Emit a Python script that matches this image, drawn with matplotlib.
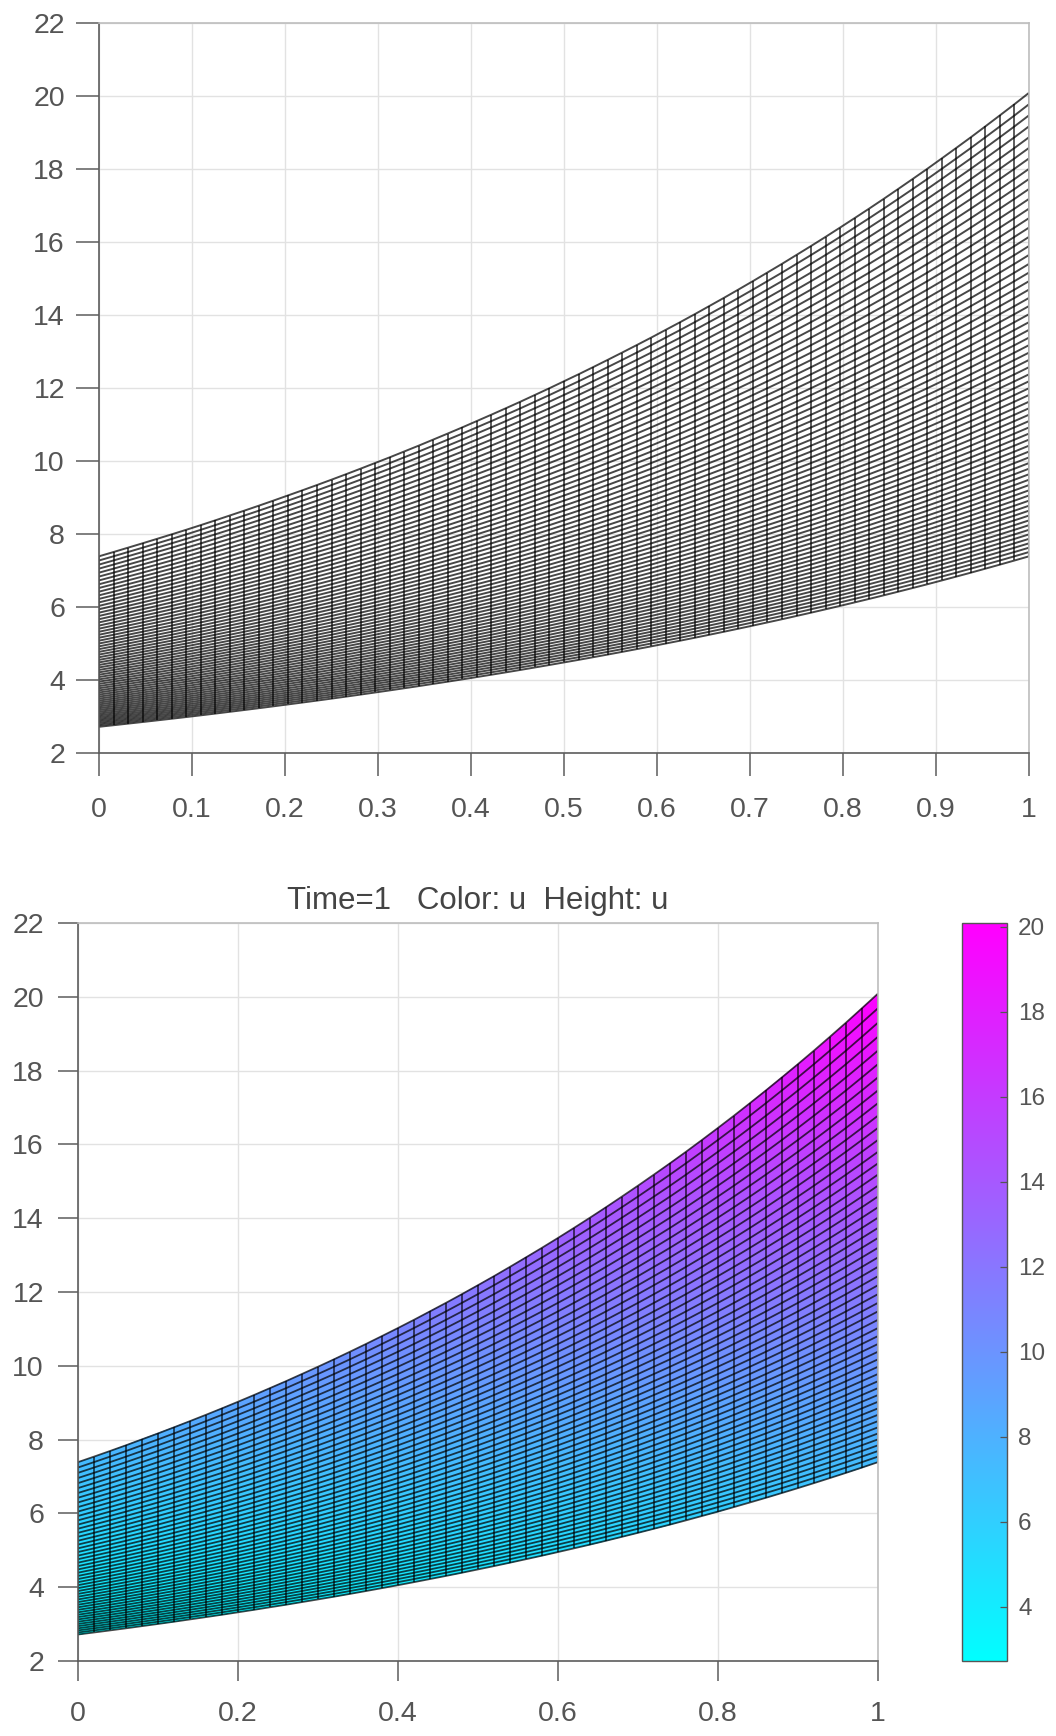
import numpy as np
import matplotlib
matplotlib.use("Agg")
import matplotlib.pyplot as plt
from matplotlib.colors import Normalize

plt.rcParams['font.family'] = ['Liberation Sans', 'DejaVu Sans']

# Values. Each panel is a separable mesh, so one list of
# column values along the lower edge and one list of levels along the left edge
# stand in for the full grid of several thousand crossings.
top_lower_edge = [2.718,2.761,2.805,2.849,2.894,2.939,2.985,3.032,3.080,3.129,3.178,3.228,3.279,3.331,3.383,3.436,
                  3.490,3.545,3.601,3.658,3.715,3.774,3.833,3.894,3.955,4.017,4.081,4.145,4.210,4.276,4.344,4.412,
                  4.482,4.552,4.624,4.697,4.771,4.846,4.922,5.000,5.078,5.158,5.240,5.322,5.406,5.491,5.578,5.665,
                  5.755,5.845,5.937,6.031,6.126,6.222,6.320,6.420,6.521,6.623,6.728,6.834,6.941,7.051,7.162,7.274,7.389]
top_left_levels = list(top_lower_edge)
bottom_lower_edge = [2.718,2.773,2.829,2.886,2.945,3.004,3.065,3.127,3.190,3.254,3.320,3.387,3.456,3.525,3.597,3.669,
                     3.743,3.819,3.896,3.975,4.055,4.137,4.221,4.306,4.393,4.482,4.572,4.665,4.759,4.855,4.953,5.053,
                     5.155,5.259,5.366,5.474,5.585,5.697,5.812,5.930,6.050,6.172,6.297,6.424,6.554,6.686,6.821,6.959,
                     7.099,7.243,7.389]
bottom_left_levels = list(bottom_lower_edge)

y_ticks = [2,4,6,8,10,12,14,16,18,20,22]
top_x_ticks = [0,0.1,0.2,0.3,0.4,0.5,0.6,0.7,0.8,0.9,1]
top_x_labels = ['0','0.1','0.2','0.3','0.4','0.5','0.6','0.7','0.8','0.9','1']
bottom_x_ticks = [0,0.2,0.4,0.6,0.8,1]
bottom_x_labels = ['0','0.2','0.4','0.6','0.8','1']
cbar_ticks = [4,6,8,10,12,14,16,18,20]
title_text = 'Time=1   Color: u  Height: u'
u_min, u_max = 2.718, 20.09

W, H = 1056, 1736
fig = plt.figure(figsize=(W/100, H/100), dpi=100, facecolor='white')

def px_axes(l, t, r, b):
    return fig.add_axes([l/W, 1-b/H, (r-l)/W, (b-t)/H])

def mesh(lower, levels):
    lower = np.array(lower); levels = np.array(levels)
    x = np.arange(len(lower))/(len(lower)-1)
    X, _ = np.meshgrid(x, levels)
    Y = np.outer(levels, lower/lower[0])
    return X, Y

def wires(ax, X, Y, lw_row, lw_col, alpha):
    for i in range(X.shape[0]):
        ax.plot(X[i], Y[i], color='black', lw=lw_row, alpha=alpha, solid_capstyle='butt')
    for j in range(X.shape[1]):
        ax.plot(X[:, j], Y[:, j], color='black', lw=lw_col, alpha=alpha, solid_capstyle='butt')

def style(ax, xt, xl, yt, ticklen, xpad, ypad):
    ax.set_xlim(0, 1); ax.set_ylim(2, 22)
    ax.set_xticks(xt); ax.set_xticklabels(xl)
    ax.set_yticks(yt)
    ax.grid(True, color='#e2e2e2', lw=1.0)
    ax.set_axisbelow(True)
    for s in ['left', 'bottom']:
        ax.spines[s].set_color('#5c5c5c'); ax.spines[s].set_linewidth(1.2)
    for s in ['top', 'right']:
        ax.spines[s].set_color('#bdbdbd'); ax.spines[s].set_linewidth(1.2)
    ax.tick_params(axis='x', direction='out', length=ticklen, width=1.1, color='#5c5c5c',
                   labelcolor='#555555', labelsize=20.5, pad=xpad)
    ax.tick_params(axis='y', direction='out', length=ticklen, width=1.1, color='#5c5c5c',
                   labelcolor='#555555', labelsize=20.5, pad=ypad)

# Top panel: black wire mesh
ax1 = px_axes(99, 23, 1029, 753)
X1, Y1 = mesh(top_lower_edge, top_left_levels)
wires(ax1, X1, Y1, 1.4, 1.25, 0.72)
style(ax1, top_x_ticks, top_x_labels, y_ticks, 16.5, 15.5, 8)

# Bottom panel: coloured mesh
ax2 = px_axes(78, 923, 878, 1661)
X2, Y2 = mesh(bottom_lower_edge, bottom_left_levels)
norm = Normalize(u_min, u_max)
pm = ax2.pcolormesh(X2, Y2, 0.25*(Y2[:-1,:-1]+Y2[1:,:-1]+Y2[:-1,1:]+Y2[1:,1:]),
                    cmap='cool', norm=norm, shading='flat',
                    edgecolors='face', linewidth=0.3, antialiased=True)
wires(ax2, X2, Y2, 1.3, 1.2, 0.72)
style(ax2, bottom_x_ticks, bottom_x_labels, y_ticks, 14.5, 14.5, 10)
ax2.set_title(title_text, fontsize=22.5, color='#444444', pad=10)

# Colour bar
cax = px_axes(962, 923, 1007, 1661)
cb = fig.colorbar(pm, cax=cax, ticks=cbar_ticks)
cb.solids.set_edgecolor('face')
cb.outline.set_edgecolor('#555555'); cb.outline.set_linewidth(1.0)
cax.tick_params(axis='y', direction='in', length=5, width=0.9, color='#555555',
                labelcolor='#555555', labelsize=17.5, pad=8)

fig.savefig('out.png', dpi=100)
